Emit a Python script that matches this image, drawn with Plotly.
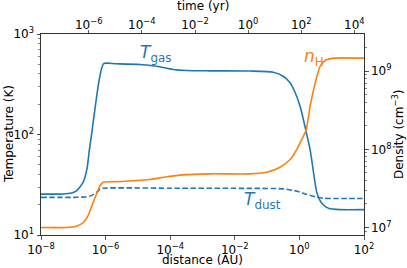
import plotly.graph_objects as go

# ---- data ----
dist_gas = [1.0e-8, 5.0e-8, 8.9e-8, 1.23e-7, 2.0e-7, 2.63e-7, 3.16e-7, 3.8e-7, 5.13e-7,
            6.61e-7, 8.71e-7, 2.14e-6, 1.15e-5, 3.8e-5, 1.23e-4, 3.24e-4, 1.7e-3,
            2.95e-2, 0.155, 0.316, 0.513, 0.741, 1.05, 1.33, 1.62, 2.14, 2.75, 3.47,
            5.01, 7.94, 18.2, 100.0]
T_gas = [25.5, 25.6, 26.2, 27.3, 33.3, 44.9, 71, 108, 223,
         378, 508, 505, 497, 478, 444, 433, 430,
         428, 417, 380, 327, 260, 191, 141, 106, 71, 41.6, 26.3,
         20.6, 18.5, 17.9, 17.9]

dist_dust = [1.0e-8, 1.0e-7, 1.95e-7, 3.16e-7, 5.13e-7, 6.61e-7, 8.32e-7, 1.0e-4,
             3.16e-2, 0.316, 0.832, 1.7, 3.47, 5.62, 15.8, 100.0]
T_dust = [23.7, 23.7, 23.8, 24.3, 26.3, 28.4, 29.2, 29.2,
          29.1, 28.8, 27.3, 25.3, 23.8, 23.2, 23.1, 23.1]

dist_nH = [1.0e-8, 6.3e-8, 1.23e-7, 2.0e-7, 2.82e-7, 4.07e-7, 5.13e-7, 6.61e-7,
           8.32e-7, 2.14e-6, 2.29e-5, 7.76e-5, 2.51e-4, 1.7e-3, 2.95e-2, 9.77e-2,
           0.251, 0.513, 0.832, 1.19, 1.62, 2.15, 3.09, 4.41, 6.31, 11.5, 100.0]
n_H = [1.0e7, 1.0e7, 1.04e7, 1.15e7, 1.40e7, 2.07e7, 2.63e7, 3.39e7,
       3.80e7, 3.85e7, 4.11e7, 4.46e7, 4.72e7, 4.86e7, 4.86e7, 5.1e7,
       5.9e7, 7.4e7, 1.0e8, 1.34e8, 1.78e8, 3.56e8, 7.08e8, 1.16e9, 1.37e9, 1.47e9, 1.47e9]

dist_ticks = [1e-8, 1e-6, 1e-4, 1e-2, 1e0, 1e2]
dist_labels = ["10<sup>−8</sup>", "10<sup>−6</sup>", "10<sup>−4</sup>", "10<sup>−2</sup>",
               "10<sup>0</sup>", "10<sup>2</sup>"]
time_ticks = [1e-6, 1e-4, 1e-2, 1e0, 1e2, 1e4]
time_labels = ["10<sup>−6</sup>", "10<sup>−4</sup>", "10<sup>−2</sup>", "10<sup>0</sup>",
               "10<sup>2</sup>", "10<sup>4</sup>"]
temp_ticks = [1e1, 1e2, 1e3]
temp_labels = ["10<sup>1</sup>", "10<sup>2</sup>", "10<sup>3</sup>"]
dens_ticks = [1e7, 1e8, 1e9]
dens_labels = ["10<sup>7</sup>", "10<sup>8</sup>", "10<sup>9</sup>"]

BLUE = "#1f77b4"
ORANGE = "#ff7f0e"
FONT = "DejaVu Sans"
AX = "#333333"

fig = go.Figure()
fig.add_trace(go.Scatter(x=dist_gas, y=T_gas, mode="lines", xaxis="x", yaxis="y",
                         line=dict(color=BLUE, width=1.6, shape="spline", smoothing=0.6),
                         showlegend=False, hoverinfo="skip"))
fig.add_trace(go.Scatter(x=dist_dust, y=T_dust, mode="lines", xaxis="x", yaxis="y",
                         line=dict(color=BLUE, width=1.6, dash="5.5px,2.5px",
                                   shape="spline", smoothing=0.6),
                         showlegend=False, hoverinfo="skip"))
fig.add_trace(go.Scatter(x=dist_nH, y=n_H, mode="lines", xaxis="x", yaxis="y2",
                         line=dict(color=ORANGE, width=1.6, shape="spline", smoothing=0.6),
                         showlegend=False, hoverinfo="skip"))
# invisible trace to anchor the top time axis
fig.add_trace(go.Scatter(x=[time_ticks[0], time_ticks[-1]], y=[100, 100], mode="markers",
                         xaxis="x2", yaxis="y", marker=dict(opacity=0),
                         showlegend=False, hoverinfo="skip"))

tickfont = dict(family=FONT, size=12, color="black")
titlefont = dict(family=FONT, size=12, color="black")

common = dict(type="log", tickmode="array", ticks="outside", ticklen=3.5, tickwidth=0.8,
              tickcolor=AX, showline=True, linecolor=AX, linewidth=1, showgrid=False,
              zeroline=False, tickfont=tickfont, automargin=False)
minor = dict(ticks="outside", ticklen=2, tickwidth=0.6, tickcolor=AX, dtick="D1",
             showgrid=False)

fig.update_layout(
    width=407, height=268,
    margin=dict(l=41, r=43, t=34, b=33, autoexpand=False),
    paper_bgcolor="white", plot_bgcolor="white",
    font=dict(family=FONT, size=12, color="black"),
    xaxis=dict(range=[-8, 2], tickvals=dist_ticks, ticktext=dist_labels, **common),
    xaxis2=dict(range=[-7.80, 4.365], overlaying="x", side="top", anchor="y",
                tickvals=time_ticks, ticktext=time_labels, ticklabelstandoff=-4, **common),
    yaxis=dict(range=[1, 3], tickvals=temp_ticks, ticktext=temp_labels, minor=minor,
               **common),
    yaxis2=dict(range=[6.904, 9.476], overlaying="y", side="right", anchor="x",
                tickvals=dens_ticks, ticktext=dens_labels, minor=minor, **common),
)

# axis titles
fig.add_annotation(text="distance (AU)", xref="paper", yref="paper", x=0.5, y=-0.122,
                   xanchor="center", yanchor="middle", showarrow=False, font=titlefont)
fig.add_annotation(text="time (yr)", xref="paper", yref="paper", x=0.5, y=1.137,
                   xanchor="center", yanchor="middle", showarrow=False, font=titlefont)
fig.add_annotation(text="Temperature (K)", xref="paper", yref="paper", x=-0.099, y=0.502,
                   xanchor="center", yanchor="middle", textangle=-90, showarrow=False,
                   font=titlefont)
fig.add_annotation(text="Density (cm<sup>−3</sup>)", xref="paper", yref="paper",
                   x=1.105, y=0.502, xanchor="center", yanchor="middle", textangle=-90,
                   showarrow=False, font=titlefont)

# curve labels
fig.add_annotation(text="<i>T</i><sub>gas</sub>", xref="paper", yref="paper",
                   x=0.300, y=0.905, xanchor="left", yanchor="middle", showarrow=False,
                   font=dict(family=FONT, size=17, color=BLUE))
fig.add_annotation(text="<i>n</i><sub>H</sub>", xref="paper", yref="paper",
                   x=0.807, y=0.885, xanchor="left", yanchor="middle", showarrow=False,
                   font=dict(family=FONT, size=17, color=ORANGE))
fig.add_annotation(text="<i>T</i><sub>dust</sub>", xref="paper", yref="paper",
                   x=0.621, y=0.174, xanchor="left", yanchor="middle", showarrow=False,
                   font=dict(family=FONT, size=17, color=BLUE))

fig.write_html("out.html", config={"displayModeBar": False, "staticPlot": True},
               post_script="document.body.style.margin='0';document.body.style.padding='0';")
